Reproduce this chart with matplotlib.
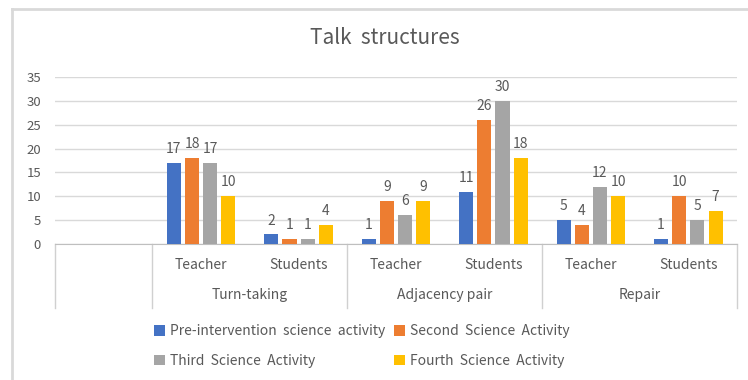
import matplotlib.pyplot as plt
import matplotlib.transforms as mtrans
import numpy as np

plt.rcParams['font.family'] = ['Noto Sans CJK KR', 'DejaVu Sans']

# 카테고리: 첫 칸은 비어 있음
groups = ['', 'Turn-taking', 'Adjacency pair', 'Repair']
subcats = ['', 'Teacher', 'Students', 'Teacher', 'Students', 'Teacher', 'Students']
series = ['Pre-intervention  science  activity', 'Second  Science  Activity',
          'Third  Science  Activity', 'Fourth  Science  Activity']
pre = [None, 17, 2, 1, 11, 5, 1]
second = [None, 18, 1, 9, 26, 4, 10]
third = [None, 17, 1, 6, 30, 12, 5]
fourth = [None, 10, 4, 9, 18, 10, 7]
colors = ['#4472C4', '#ED7D31', '#A5A5A5', '#FFC000']

txt = '#595959'
fig = plt.figure(figsize=(7.48, 3.80), dpi=100)
ax = fig.add_axes([55/748, (380-244)/380, (737-55)/748, 167/380])

x = np.arange(len(subcats))
width = 0.145
offsets = [-0.28, -0.093, 0.093, 0.28]
handles = []
for vals, off, c, name in zip([pre, second, third, fourth], offsets, colors, series):
    idx = [i for i, v in enumerate(vals) if v is not None]
    v = [vals[i] for i in idx]
    b = ax.bar(x[idx] + off, v, width, color=c, label=name, zorder=3)
    handles.append(b)
    for xi, yi in zip(x[idx] + off, v):
        ax.annotate(str(yi), (xi, yi), xytext=(0, 5), textcoords='offset points',
                    ha='center', va='bottom', fontsize=10, color=txt)

ax.set_xlim(-0.5, 6.5)
ax.set_ylim(0, 35)
ax.set_yticks(range(0, 36, 5))
ax.yaxis.grid(True, color='#d9d9d9', linewidth=1)
ax.set_axisbelow(True)
for s in ['top', 'right', 'left']:
    ax.spines[s].set_visible(False)
ax.spines['bottom'].set_color('#bfbfbf')
ax.tick_params(axis='y', length=0, labelsize=9.5, labelcolor=txt, pad=10)
ax.set_xticks([])

# 두 단계 가로축 라벨
tr = mtrans.blended_transform_factory(ax.transData, ax.transAxes)
for xb in [-0.5, 0.5, 2.5, 4.5, 6.5]:
    ax.plot([xb, xb], [0, -0.383], transform=tr, color='#d0d0d0', lw=1, clip_on=False)
for i, s in enumerate(subcats):
    ax.text(i, -0.126, s, transform=tr, ha='center', va='center', fontsize=10, color=txt)
for g, xc in zip(groups[1:], [1.5, 3.5, 5.5]):
    ax.text(xc, -0.305, g, transform=tr, ha='center', va='center', fontsize=10, color=txt)

fig.text(385/748, 1 - 38/380, 'Talk  structures', ha='center', va='center',
         fontsize=15, color=txt)

order = [0, 2, 1, 3]
fig.legend([handles[i] for i in order], [series[i] for i in order], ncol=2,
           loc='upper left', bbox_to_anchor=(141/748, 1 - 312/380), frameon=False,
           fontsize=10, labelcolor=txt, handlelength=0.8, handleheight=0.8,
           handletextpad=0.4, columnspacing=0.6, labelspacing=1.1)

# 차트 테두리
fig.add_artist(plt.Line2D([12/748, 1], [1 - 9/380, 1 - 9/380], color='#d9d9d9', lw=2))
fig.add_artist(plt.Line2D([12/748, 12/748], [0, 1 - 9/380], color='#d9d9d9', lw=2))

fig.savefig('out.png', dpi=100)
